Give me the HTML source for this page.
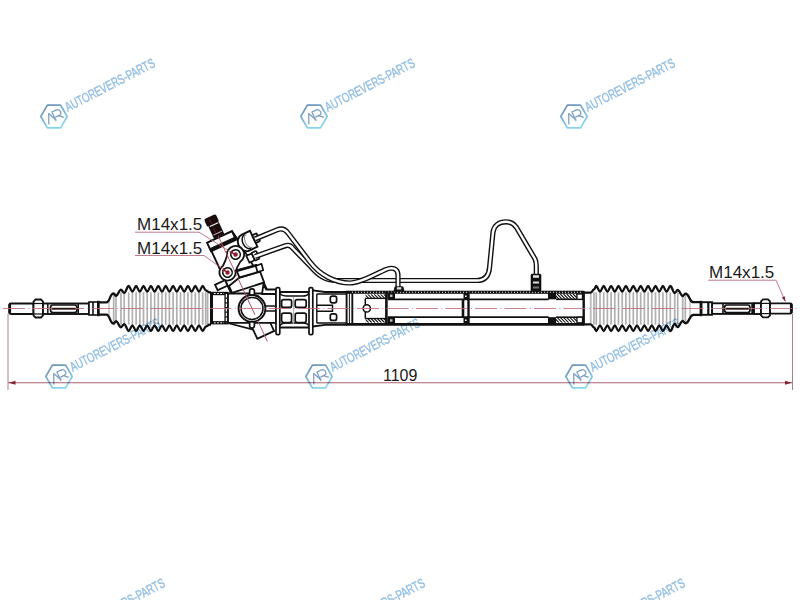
<!DOCTYPE html>
<html><head><meta charset="utf-8"><style>html,body{margin:0;padding:0;background:#fff;width:800px;height:600px;overflow:hidden}svg{display:block}</style></head>
<body><svg width="800" height="600" viewBox="0 0 800 600"><defs><linearGradient id="hexg" x1="0" y1="0" x2="0.5" y2="1"><stop offset="0" stop-color="#2f5a8c"/><stop offset="0.55" stop-color="#3f93c4"/><stop offset="1" stop-color="#55c3ea"/></linearGradient></defs><rect width="800" height="600" fill="#fff"/>
<rect width="800" height="600" fill="#fff"/>
<line x1="113.70" y1="293.80" x2="113.70" y2="323.20" stroke="#b0b0b0" stroke-width="1.7"/>
<line x1="116.00" y1="296.40" x2="116.00" y2="320.60" stroke="#b0b0b0" stroke-width="1.7"/>
<line x1="121.00" y1="292.20" x2="121.00" y2="324.80" stroke="#b0b0b0" stroke-width="1.7"/>
<line x1="124.20" y1="293.40" x2="124.20" y2="323.60" stroke="#b0b0b0" stroke-width="1.7"/>
<line x1="128.70" y1="292.20" x2="128.70" y2="324.80" stroke="#b0b0b0" stroke-width="1.7"/>
<line x1="132.40" y1="292.20" x2="132.40" y2="324.80" stroke="#b0b0b0" stroke-width="1.7"/>
<line x1="136.10" y1="292.20" x2="136.10" y2="324.80" stroke="#b0b0b0" stroke-width="1.7"/>
<line x1="139.80" y1="292.20" x2="139.80" y2="324.80" stroke="#b0b0b0" stroke-width="1.7"/>
<line x1="143.50" y1="292.20" x2="143.50" y2="324.80" stroke="#b0b0b0" stroke-width="1.7"/>
<line x1="147.20" y1="292.20" x2="147.20" y2="324.80" stroke="#b0b0b0" stroke-width="1.7"/>
<line x1="150.90" y1="292.20" x2="150.90" y2="324.80" stroke="#b0b0b0" stroke-width="1.7"/>
<line x1="154.60" y1="292.20" x2="154.60" y2="324.80" stroke="#b0b0b0" stroke-width="1.7"/>
<line x1="158.30" y1="292.20" x2="158.30" y2="324.80" stroke="#b0b0b0" stroke-width="1.7"/>
<line x1="162.00" y1="292.20" x2="162.00" y2="324.80" stroke="#b0b0b0" stroke-width="1.7"/>
<line x1="165.70" y1="292.20" x2="165.70" y2="324.80" stroke="#b0b0b0" stroke-width="1.7"/>
<line x1="169.40" y1="292.20" x2="169.40" y2="324.80" stroke="#b0b0b0" stroke-width="1.7"/>
<line x1="173.10" y1="292.20" x2="173.10" y2="324.80" stroke="#b0b0b0" stroke-width="1.7"/>
<line x1="176.80" y1="292.20" x2="176.80" y2="324.80" stroke="#b0b0b0" stroke-width="1.7"/>
<line x1="180.50" y1="292.20" x2="180.50" y2="324.80" stroke="#b0b0b0" stroke-width="1.7"/>
<line x1="184.20" y1="292.20" x2="184.20" y2="324.80" stroke="#b0b0b0" stroke-width="1.7"/>
<line x1="187.90" y1="292.20" x2="187.90" y2="324.80" stroke="#b0b0b0" stroke-width="1.7"/>
<line x1="191.60" y1="292.20" x2="191.60" y2="324.80" stroke="#b0b0b0" stroke-width="1.7"/>
<line x1="195.30" y1="292.20" x2="195.30" y2="324.80" stroke="#b0b0b0" stroke-width="1.7"/>
<line x1="199.00" y1="292.20" x2="199.00" y2="324.80" stroke="#b0b0b0" stroke-width="1.7"/>
<line x1="202.70" y1="292.20" x2="202.70" y2="324.80" stroke="#b0b0b0" stroke-width="1.7"/>
<line x1="205.70" y1="292.20" x2="205.70" y2="324.80" stroke="#b0b0b0" stroke-width="1.7"/>
<line x1="109.00" y1="300.00" x2="109.00" y2="317.00" stroke="#c8c8c8" stroke-width="1.7"/>
<line x1="207.60" y1="293.00" x2="207.60" y2="324.00" stroke="#b0b0b0" stroke-width="1.7"/>
<path d="M98.00,302.30 C100.95,302.30 103.25,302.30 106.20,302.30 C110.33,302.30 109.58,293.30 113.70,293.30 C114.53,293.30 115.17,295.90 116.00,295.90 C117.80,295.90 119.20,289.70 121.00,289.70 C122.15,289.70 123.05,292.90 124.20,292.90 C125.82,292.90 127.08,286.00 128.70,286.00 C130.03,286.00 131.07,291.70 132.40,291.70 C133.73,291.70 134.77,286.00 136.10,286.00 C137.43,286.00 138.47,291.70 139.80,291.70 C141.13,291.70 142.17,286.00 143.50,286.00 C144.83,286.00 145.87,291.70 147.20,291.70 C148.53,291.70 149.57,286.00 150.90,286.00 C152.23,286.00 153.27,291.70 154.60,291.70 C155.93,291.70 156.97,286.00 158.30,286.00 C159.63,286.00 160.67,291.70 162.00,291.70 C163.33,291.70 164.37,286.00 165.70,286.00 C167.03,286.00 168.07,291.70 169.40,291.70 C170.73,291.70 171.77,286.00 173.10,286.00 C174.43,286.00 175.47,291.70 176.80,291.70 C178.13,291.70 179.17,286.00 180.50,286.00 C181.83,286.00 182.87,291.70 184.20,291.70 C185.53,291.70 186.57,286.00 187.90,286.00 C189.23,286.00 190.27,291.70 191.60,291.70 C192.93,291.70 193.97,286.00 195.30,286.00 C196.63,286.00 197.67,291.70 199.00,291.70 C200.33,291.70 201.37,286.00 202.70,286.00 C203.78,286.00 204.62,290.30 205.70,290.30 C207.07,290.30 208.13,292.30 209.50,292.30 C210.04,292.30 210.46,292.30 211.00,292.30" fill="none" stroke="#111" stroke-width="2.3" stroke-linejoin="round"/>
<path d="M98.00,314.70 C100.95,314.70 103.25,314.70 106.20,314.70 C110.33,314.70 109.58,323.70 113.70,323.70 C114.53,323.70 115.17,321.10 116.00,321.10 C117.80,321.10 119.20,327.30 121.00,327.30 C122.15,327.30 123.05,324.10 124.20,324.10 C125.82,324.10 127.08,331.00 128.70,331.00 C130.03,331.00 131.07,325.30 132.40,325.30 C133.73,325.30 134.77,331.00 136.10,331.00 C137.43,331.00 138.47,325.30 139.80,325.30 C141.13,325.30 142.17,331.00 143.50,331.00 C144.83,331.00 145.87,325.30 147.20,325.30 C148.53,325.30 149.57,331.00 150.90,331.00 C152.23,331.00 153.27,325.30 154.60,325.30 C155.93,325.30 156.97,331.00 158.30,331.00 C159.63,331.00 160.67,325.30 162.00,325.30 C163.33,325.30 164.37,331.00 165.70,331.00 C167.03,331.00 168.07,325.30 169.40,325.30 C170.73,325.30 171.77,331.00 173.10,331.00 C174.43,331.00 175.47,325.30 176.80,325.30 C178.13,325.30 179.17,331.00 180.50,331.00 C181.83,331.00 182.87,325.30 184.20,325.30 C185.53,325.30 186.57,331.00 187.90,331.00 C189.23,331.00 190.27,325.30 191.60,325.30 C192.93,325.30 193.97,331.00 195.30,331.00 C196.63,331.00 197.67,325.30 199.00,325.30 C200.33,325.30 201.37,331.00 202.70,331.00 C203.78,331.00 204.62,326.70 205.70,326.70 C207.07,326.70 208.13,324.70 209.50,324.70 C210.04,324.70 210.46,324.70 211.00,324.70" fill="none" stroke="#111" stroke-width="2.3" stroke-linejoin="round"/>
<line x1="594.00" y1="292.20" x2="594.00" y2="324.80" stroke="#b0b0b0" stroke-width="1.7"/>
<line x1="596.30" y1="292.20" x2="596.30" y2="324.80" stroke="#b0b0b0" stroke-width="1.7"/>
<line x1="600.00" y1="292.20" x2="600.00" y2="324.80" stroke="#b0b0b0" stroke-width="1.7"/>
<line x1="603.70" y1="292.20" x2="603.70" y2="324.80" stroke="#b0b0b0" stroke-width="1.7"/>
<line x1="607.40" y1="292.20" x2="607.40" y2="324.80" stroke="#b0b0b0" stroke-width="1.7"/>
<line x1="611.10" y1="292.20" x2="611.10" y2="324.80" stroke="#b0b0b0" stroke-width="1.7"/>
<line x1="614.80" y1="292.20" x2="614.80" y2="324.80" stroke="#b0b0b0" stroke-width="1.7"/>
<line x1="618.50" y1="292.20" x2="618.50" y2="324.80" stroke="#b0b0b0" stroke-width="1.7"/>
<line x1="622.20" y1="292.20" x2="622.20" y2="324.80" stroke="#b0b0b0" stroke-width="1.7"/>
<line x1="625.90" y1="292.20" x2="625.90" y2="324.80" stroke="#b0b0b0" stroke-width="1.7"/>
<line x1="629.60" y1="292.20" x2="629.60" y2="324.80" stroke="#b0b0b0" stroke-width="1.7"/>
<line x1="633.30" y1="292.20" x2="633.30" y2="324.80" stroke="#b0b0b0" stroke-width="1.7"/>
<line x1="637.00" y1="292.20" x2="637.00" y2="324.80" stroke="#b0b0b0" stroke-width="1.7"/>
<line x1="640.70" y1="292.20" x2="640.70" y2="324.80" stroke="#b0b0b0" stroke-width="1.7"/>
<line x1="644.40" y1="292.20" x2="644.40" y2="324.80" stroke="#b0b0b0" stroke-width="1.7"/>
<line x1="648.10" y1="292.20" x2="648.10" y2="324.80" stroke="#b0b0b0" stroke-width="1.7"/>
<line x1="651.80" y1="292.20" x2="651.80" y2="324.80" stroke="#b0b0b0" stroke-width="1.7"/>
<line x1="655.50" y1="292.20" x2="655.50" y2="324.80" stroke="#b0b0b0" stroke-width="1.7"/>
<line x1="659.20" y1="292.20" x2="659.20" y2="324.80" stroke="#b0b0b0" stroke-width="1.7"/>
<line x1="662.90" y1="292.20" x2="662.90" y2="324.80" stroke="#b0b0b0" stroke-width="1.7"/>
<line x1="666.60" y1="292.20" x2="666.60" y2="324.80" stroke="#b0b0b0" stroke-width="1.7"/>
<line x1="670.30" y1="292.20" x2="670.30" y2="324.80" stroke="#b0b0b0" stroke-width="1.7"/>
<line x1="674.70" y1="293.50" x2="674.70" y2="323.50" stroke="#b0b0b0" stroke-width="1.7"/>
<line x1="677.70" y1="292.20" x2="677.70" y2="324.80" stroke="#b0b0b0" stroke-width="1.7"/>
<line x1="682.70" y1="296.50" x2="682.70" y2="320.50" stroke="#b0b0b0" stroke-width="1.7"/>
<line x1="685.30" y1="294.20" x2="685.30" y2="322.80" stroke="#b0b0b0" stroke-width="1.7"/>
<line x1="590.70" y1="293.50" x2="590.70" y2="323.50" stroke="#b0b0b0" stroke-width="1.7"/>
<line x1="690.00" y1="301.00" x2="690.00" y2="316.00" stroke="#c8c8c8" stroke-width="1.7"/>
<path d="M583.00,292.70 C585.77,292.70 587.93,292.70 590.70,292.70 C591.89,292.70 592.81,289.50 594.00,289.50 C594.83,289.50 595.47,286.00 596.30,286.00 C597.63,286.00 598.67,291.70 600.00,291.70 C601.33,291.70 602.37,286.00 603.70,286.00 C605.03,286.00 606.07,291.70 607.40,291.70 C608.73,291.70 609.77,286.00 611.10,286.00 C612.43,286.00 613.47,291.70 614.80,291.70 C616.13,291.70 617.17,286.00 618.50,286.00 C619.83,286.00 620.87,291.70 622.20,291.70 C623.53,291.70 624.57,286.00 625.90,286.00 C627.23,286.00 628.27,291.70 629.60,291.70 C630.93,291.70 631.97,286.00 633.30,286.00 C634.63,286.00 635.67,291.70 637.00,291.70 C638.33,291.70 639.37,286.00 640.70,286.00 C642.03,286.00 643.07,291.70 644.40,291.70 C645.73,291.70 646.77,286.00 648.10,286.00 C649.43,286.00 650.47,291.70 651.80,291.70 C653.13,291.70 654.17,286.00 655.50,286.00 C656.83,286.00 657.87,291.70 659.20,291.70 C660.53,291.70 661.57,286.00 662.90,286.00 C664.23,286.00 665.27,291.70 666.60,291.70 C667.93,291.70 668.97,286.00 670.30,286.00 C671.88,286.00 673.12,293.00 674.70,293.00 C675.78,293.00 676.62,290.00 677.70,290.00 C679.50,290.00 680.90,296.00 682.70,296.00 C683.64,296.00 684.36,293.70 685.30,293.70 C689.81,293.70 688.99,302.20 693.50,302.20 C696.20,302.20 698.30,302.20 701.00,302.20" fill="none" stroke="#111" stroke-width="2.3" stroke-linejoin="round"/>
<path d="M583.00,324.30 C585.77,324.30 587.93,324.30 590.70,324.30 C591.89,324.30 592.81,327.50 594.00,327.50 C594.83,327.50 595.47,331.00 596.30,331.00 C597.63,331.00 598.67,325.30 600.00,325.30 C601.33,325.30 602.37,331.00 603.70,331.00 C605.03,331.00 606.07,325.30 607.40,325.30 C608.73,325.30 609.77,331.00 611.10,331.00 C612.43,331.00 613.47,325.30 614.80,325.30 C616.13,325.30 617.17,331.00 618.50,331.00 C619.83,331.00 620.87,325.30 622.20,325.30 C623.53,325.30 624.57,331.00 625.90,331.00 C627.23,331.00 628.27,325.30 629.60,325.30 C630.93,325.30 631.97,331.00 633.30,331.00 C634.63,331.00 635.67,325.30 637.00,325.30 C638.33,325.30 639.37,331.00 640.70,331.00 C642.03,331.00 643.07,325.30 644.40,325.30 C645.73,325.30 646.77,331.00 648.10,331.00 C649.43,331.00 650.47,325.30 651.80,325.30 C653.13,325.30 654.17,331.00 655.50,331.00 C656.83,331.00 657.87,325.30 659.20,325.30 C660.53,325.30 661.57,331.00 662.90,331.00 C664.23,331.00 665.27,325.30 666.60,325.30 C667.93,325.30 668.97,331.00 670.30,331.00 C671.88,331.00 673.12,324.00 674.70,324.00 C675.78,324.00 676.62,327.00 677.70,327.00 C679.50,327.00 680.90,321.00 682.70,321.00 C683.64,321.00 684.36,323.30 685.30,323.30 C689.81,323.30 688.99,314.80 693.50,314.80 C696.20,314.80 698.30,314.80 701.00,314.80" fill="none" stroke="#111" stroke-width="2.3" stroke-linejoin="round"/>
<rect x="9.3" y="303.5" width="24.20" height="10.50" rx="1.5" fill="#fff" stroke="#111" stroke-width="1.9" />
<line x1="9.8" y1="304" x2="9.8" y2="313.5" stroke="#111" stroke-width="2.6" />
<path d="M35.5,299.5 L41.0,299.5 L43,301.5 L43,315.5 L41.0,317.5 L35.5,317.5 L33.5,315.5 L33.5,301.5 Z" fill="#fff" stroke="#111" stroke-width="1.8"/>
<line x1="33.5" y1="303.5" x2="43" y2="303.5" stroke="#111" stroke-width="1.2" />
<line x1="33.5" y1="314" x2="43" y2="314" stroke="#111" stroke-width="1.2" />
<rect x="43" y="303.5" width="46.00" height="10.50" rx="0" fill="#fff" stroke="#111" stroke-width="1.9" />
<line x1="47.8" y1="303.5" x2="47.8" y2="314" stroke="#111" stroke-width="1.5" />
<rect x="50.5" y="305" width="26.50" height="7.50" rx="2.5" fill="#fff" stroke="#111" stroke-width="1.7" />
<line x1="51.5" y1="308.7" x2="76" y2="308.7" stroke="#2a1414" stroke-width="1.6" />
<line x1="78.2" y1="303.5" x2="78.2" y2="314" stroke="#111" stroke-width="1.6" />
<rect x="89" y="302" width="9.50" height="13.00" rx="0" fill="#fff" stroke="#111" stroke-width="1.6" />
<line x1="93" y1="302" x2="93" y2="315" stroke="#111" stroke-width="1.6" />
<line x1="98.3" y1="300.8" x2="98.3" y2="316.2" stroke="#111" stroke-width="2.6" />
<line x1="700.9" y1="300.8" x2="700.9" y2="316.2" stroke="#111" stroke-width="2.6" />
<rect x="712" y="303.3" width="42.00" height="10.60" rx="0" fill="#fff" stroke="#111" stroke-width="1.9" />
<rect x="701.5" y="302.2" width="10.50" height="12.60" rx="0" fill="#fff" stroke="#111" stroke-width="1.9" />
<line x1="708.3" y1="302.2" x2="708.3" y2="314.8" stroke="#111" stroke-width="2.2" />
<line x1="723" y1="303.3" x2="723" y2="313.9" stroke="#111" stroke-width="1.6" />
<rect x="724.5" y="305" width="25.50" height="7.50" rx="2.5" fill="#fff" stroke="#111" stroke-width="1.7" />
<line x1="725.5" y1="308.7" x2="749" y2="308.7" stroke="#2a1414" stroke-width="1.6" />
<line x1="752.4" y1="303" x2="752.4" y2="314" stroke="#111" stroke-width="2.2" />
<rect x="754" y="303.2" width="7.00" height="10.80" rx="0" fill="#fff" stroke="#111" stroke-width="1.9" />
<path d="M763.0,299.3 L768.0,299.3 L770,301.3 L770,315.3 L768.0,317.3 L763.0,317.3 L761,315.3 L761,301.3 Z" fill="#fff" stroke="#111" stroke-width="1.8"/>
<line x1="761" y1="303.4" x2="770" y2="303.4" stroke="#111" stroke-width="1.2" />
<line x1="761" y1="313.6" x2="770" y2="313.6" stroke="#111" stroke-width="1.2" />
<rect x="770" y="303.4" width="21.80" height="10.20" rx="1.5" fill="#fff" stroke="#111" stroke-width="1.9" />
<line x1="791.2" y1="304" x2="791.2" y2="313" stroke="#111" stroke-width="2.6" />
<rect x="210" y="291.8" width="18.60" height="32.60" rx="0" fill="#111" stroke="#111" stroke-width="0" />
<rect x="213" y="295.2" width="11.40" height="25.90" rx="0" fill="#fff" stroke="#111" stroke-width="0" />
<line x1="214" y1="293.5" x2="224" y2="293.5" stroke="#fff" stroke-width="1.0" stroke-dasharray="1.6 1.6"/>
<line x1="214" y1="322.8" x2="224" y2="322.8" stroke="#fff" stroke-width="1.0" stroke-dasharray="1.6 1.6"/>
<line x1="226.5" y1="294" x2="226.5" y2="322.5" stroke="#fff" stroke-width="1.5" stroke-dasharray="3.5 1.2"/>
<g transform="translate(252,308.4) rotate(-25)"><rect x="-8" y="12" width="18.50" height="17.80" rx="0" fill="#fff" stroke="#111" stroke-width="1.8" /></g>
<path d="M228.5,323.3 L253.2,329.6" stroke="#111" stroke-width="1.6" fill="none"/>
<g transform="translate(252,308.4) rotate(-25)"><path d="M-12.5,-78 L14.5,-78 L16,-70 L19,-40 L21.5,-18 L21.5,-5 L-12.5,-5 Z" fill="#fff" stroke="#111" stroke-width="1.9"/><rect x="-13" y="-78.5" width="27.50" height="9.50" rx="0" fill="#fff" stroke="#111" stroke-width="1.9" /><rect x="-13" y="-72.3" width="27.50" height="3.30" rx="0" fill="#111" stroke="#111" stroke-width="0" /><rect x="-6" y="-101" width="13.00" height="8.60" rx="2" fill="#1c0c0c" stroke="#111" stroke-width="0" /><rect x="-5" y="-92.6" width="11.40" height="13.40" rx="0.8" fill="#1c0c0c" stroke="#111" stroke-width="0" /><rect x="-3.5" y="-92.6" width="9.00" height="1.20" rx="0" fill="#f0f0f0" stroke="#111" stroke-width="0" /><rect x="-4" y="-83.2" width="9.40" height="1.00" rx="0" fill="#cfcfcf" stroke="#111" stroke-width="0" /><line x1="-1" y1="-99" x2="-1" y2="-94" stroke="#6a2a2a" stroke-width="0.7" /><line x1="-1" y1="-89" x2="-1" y2="-84" stroke="#6a2a2a" stroke-width="0.7" /><path d="M22,-71.2 L31,-71.2 L31,-53.6 L22,-53.6 A7.5,8.8 0 0 1 22,-71.2 Z" fill="#fff" stroke="#111" stroke-width="1.9"/><path d="M24.5,-70 A5.2,7.6 0 0 0 24.5,-54.8" fill="none" stroke="#111" stroke-width="1.5"/><path d="M26,-69.5 A4,7 0 0 0 26,-55.3" fill="none" stroke="#777" stroke-width="0.9"/><rect x="31" y="-66.2" width="4.80" height="8.60" rx="1" fill="#fff" stroke="#111" stroke-width="1.8" /><line x1="31" y1="-61.9" x2="35.8" y2="-61.9" stroke="#111" stroke-width="1" /><rect x="17" y="-50" width="6.00" height="7.50" rx="0" fill="#fff" stroke="#111" stroke-width="1.7" /><rect x="23" y="-50.5" width="5.00" height="8.50" rx="1" fill="#fff" stroke="#111" stroke-width="1.7" /></g>
<path d="M239.5,277.5 L260,271.5 L264.2,282.5 L232,292.8 L229,286 Z" fill="#fff" stroke="#111" stroke-width="1.9" stroke-linejoin="round"/><path d="M236.5,270.5 L256.5,265 L260,271.5 L239.5,277.5 Z" fill="#fff" stroke="#111" stroke-width="1.9" stroke-linejoin="round"/><path d="M237,270.8 L257,265.2" stroke="#111" stroke-width="2.6"/><path d="M255.8,266 L261.5,263.8 L263.2,270.2 L257.5,272 Z" fill="#fff" stroke="#111" stroke-width="1.7" stroke-linejoin="round"/><g transform="translate(252,308.4) rotate(-25)"><rect x="-23.5" y="-37" width="11.00" height="6.00" rx="0" fill="#fff" stroke="#111" stroke-width="1.8" /></g><g transform="translate(252,308.4) rotate(-25)"><path d="M-0.37,-58.32 Q-3.90,-54.33 -8.26,-50.90 A8.1,8.1 0 1 0 0.75,-40.53 Q4.75,-44.37 9.19,-47.31 A8.6,8.6 0 1 0 -0.37,-58.32 Z" fill="#fff" stroke="#111" stroke-width="1.8"/><circle cx="7.85" cy="-55.8" r="4.7" fill="#fff" stroke="#111" stroke-width="1.6"/><circle cx="7.85" cy="-55.8" r="2.2" fill="#9b1c2a"/><circle cx="-7" cy="-42.9" r="4.7" fill="#fff" stroke="#111" stroke-width="1.6"/><circle cx="-7" cy="-42.9" r="2.2" fill="#9b1c2a"/></g>
<path d="M228,293.5 L276,293.5 L276,322.8 L228,322.8 Z" fill="#fff" stroke="#111" stroke-width="1.8"/>
<path d="M263.5,284 L266,289.5 L276,289.5 L276,294 L262,294 Z" fill="#fff" stroke="#111" stroke-width="1.8" stroke-linejoin="round"/>
<rect x="249.6" y="288.8" width="4.80" height="7.20" rx="2.2" fill="#fff" stroke="#111" stroke-width="1.7" />
<rect x="249.6" y="320.8" width="4.80" height="7.20" rx="2.2" fill="#fff" stroke="#111" stroke-width="1.7" />
<circle cx="252" cy="308.4" r="13.4" fill="#fff" stroke="#111" stroke-width="2"/>
<circle cx="252" cy="308.4" r="11" fill="#fff" stroke="#111" stroke-width="1.5"/>
<path d="M265.3,306 L276,306 M265.3,311 L276,311" stroke="#111" stroke-width="1.5"/>
<rect x="276" y="287.6" width="3.80" height="47.10" rx="1.5" fill="#fff" stroke="#111" stroke-width="1.7" />
<path d="M279.8,293.5 Q282,296 286,296 L303,296 Q307,296 309,293.5 M279.8,325.5 Q282,323 286,323 L303,323 Q307,323 309,325.5" fill="none" stroke="#111" stroke-width="1.6"/>
<path d="M279.8,292 L309,292 M279.8,327.5 L309,327.5" fill="none" stroke="#111" stroke-width="1.8"/>
<rect x="281.6" y="299.6" width="10.00" height="7.80" rx="2" fill="#fff" stroke="#111" stroke-width="1.7" />
<rect x="281.6" y="313.2" width="10.00" height="9.40" rx="2" fill="#fff" stroke="#111" stroke-width="1.7" />
<rect x="295.2" y="299.6" width="11.00" height="7.80" rx="2" fill="#fff" stroke="#111" stroke-width="1.7" />
<rect x="295.2" y="313.2" width="11.00" height="9.40" rx="2" fill="#fff" stroke="#111" stroke-width="1.7" />
<line x1="293.4" y1="297" x2="293.4" y2="324" stroke="#aaa" stroke-width="1.0" />
<rect x="309" y="287.6" width="3.80" height="47.10" rx="1.5" fill="#fff" stroke="#111" stroke-width="1.7" />
<path d="M312.8,290.3 L325,292 L347,292 M312.8,326.5 L325,324.8 L347,324.8" fill="none" stroke="#111" stroke-width="1.8"/>
<path d="M316.8,294 L316.8,323 M316.8,294 L346,294 M316.8,323 L346,323" fill="none" stroke="#111" stroke-width="1.4"/>
<path d="M316.8,305.3 L332.5,305.3 L332.5,311.3 L316.8,311.3" fill="none" stroke="#111" stroke-width="1.5"/>
<rect x="330.3" y="296.2" width="6.30" height="6.60" rx="2" fill="#fff" stroke="#111" stroke-width="1.7" />
<rect x="330.3" y="313.8" width="6.30" height="6.60" rx="2" fill="#fff" stroke="#111" stroke-width="1.7" />
<line x1="346.6" y1="291.5" x2="346.6" y2="324.5" stroke="#111" stroke-width="1.9" />
<line x1="349.4" y1="292" x2="349.4" y2="324" stroke="#111" stroke-width="1.0" />
<line x1="352.3" y1="291.5" x2="352.3" y2="324.5" stroke="#111" stroke-width="1.9" />
<rect x="346" y="290.7" width="237.70" height="3.10" rx="0" fill="#111" stroke="#111" stroke-width="0" />
<line x1="352" y1="292.25" x2="582" y2="292.25" stroke="#fff" stroke-width="0.9" stroke-dasharray="1 2"/>
<line x1="346" y1="324.3" x2="583.7" y2="324.3" stroke="#111" stroke-width="2.7" />
<line x1="388" y1="299.3" x2="548.7" y2="299.3" stroke="#111" stroke-width="1.8" />
<line x1="388" y1="317.2" x2="548.7" y2="317.2" stroke="#111" stroke-width="1.8" />
<clipPath id="h365294"><rect x="365.5" y="294.2" width="20.30000000000001" height="4.199999999999989"/></clipPath><path d="M361.30,294.2 L365.50,298.4 M364.50,294.2 L368.70,298.4 M367.70,294.2 L371.90,298.4 M370.90,294.2 L375.10,298.4 M374.10,294.2 L378.30,298.4 M377.30,294.2 L381.50,298.4 M380.50,294.2 L384.70,298.4 M383.70,294.2 L387.90,298.4" stroke="#111" stroke-width="1.1" clip-path="url(#h365294)"/>
<clipPath id="h365318"><rect x="365.5" y="318.5" width="20.30000000000001" height="4.199999999999989"/></clipPath><path d="M361.30,318.5 L365.50,322.7 M364.50,318.5 L368.70,322.7 M367.70,318.5 L371.90,322.7 M370.90,318.5 L375.10,322.7 M374.10,318.5 L378.30,322.7 M377.30,318.5 L381.50,322.7 M380.50,318.5 L384.70,322.7 M383.70,318.5 L387.90,322.7" stroke="#111" stroke-width="1.1" clip-path="url(#h365318)"/>
<line x1="365.3" y1="298.4" x2="365.3" y2="318.5" stroke="#111" stroke-width="1.5" />
<line x1="365.3" y1="298.4" x2="386" y2="298.4" stroke="#111" stroke-width="1.3" />
<line x1="365.3" y1="318.5" x2="386" y2="318.5" stroke="#111" stroke-width="1.3" />
<circle cx="366.8" cy="308.4" r="3.6" fill="#fff" stroke="#111" stroke-width="1.6"/>
<line x1="386.4" y1="291.6" x2="386.4" y2="324.2" stroke="#111" stroke-width="2.6" />
<rect x="387.5" y="292.5" width="7.50" height="6.50" rx="0" fill="#111" stroke="#111" stroke-width="0" />
<rect x="387.5" y="317.5" width="7.50" height="6.00" rx="0" fill="#111" stroke="#111" stroke-width="0" />
<rect x="390" y="294.5" width="2.50" height="2.50" rx="0" fill="#bbb" stroke="#111" stroke-width="0" />
<rect x="390" y="319.2" width="2.50" height="2.50" rx="0" fill="#bbb" stroke="#111" stroke-width="0" />
<line x1="463" y1="299.3" x2="463" y2="317.2" stroke="#111" stroke-width="2.6" />
<line x1="468.5" y1="292" x2="468.5" y2="324" stroke="#111" stroke-width="2.4" />
<rect x="463.5" y="293" width="5.50" height="6.30" rx="0" fill="#111" stroke="#111" stroke-width="0" />
<rect x="463.5" y="317.2" width="5.50" height="6.30" rx="0" fill="#111" stroke="#111" stroke-width="0" />
<rect x="465" y="295.5" width="1.60" height="1.50" rx="0" fill="#fff" stroke="#111" stroke-width="0" />
<rect x="465" y="319.5" width="1.60" height="1.50" rx="0" fill="#fff" stroke="#111" stroke-width="0" />
<line x1="548.7" y1="293" x2="548.7" y2="299.3" stroke="#111" stroke-width="1.4" />
<line x1="548.7" y1="317.2" x2="548.7" y2="323.5" stroke="#111" stroke-width="1.4" />
<rect x="549" y="293" width="7.00" height="6.30" rx="0" fill="#111" stroke="#111" stroke-width="0" />
<rect x="549" y="317.2" width="7.00" height="6.30" rx="0" fill="#111" stroke="#111" stroke-width="0" />
<clipPath id="h556294"><rect x="556" y="294" width="21" height="5.300000000000011"/></clipPath><path d="M550.70,294 L556.00,299.3 M553.90,294 L559.20,299.3 M557.10,294 L562.40,299.3 M560.30,294 L565.60,299.3 M563.50,294 L568.80,299.3 M566.70,294 L572.00,299.3 M569.90,294 L575.20,299.3 M573.10,294 L578.40,299.3 M576.30,294 L581.60,299.3" stroke="#111" stroke-width="1.1" clip-path="url(#h556294)"/>
<clipPath id="h556317"><rect x="556" y="317.2" width="21" height="5.600000000000023"/></clipPath><path d="M550.40,317.2 L556.00,322.8 M553.60,317.2 L559.20,322.8 M556.80,317.2 L562.40,322.8 M560.00,317.2 L565.60,322.8 M563.20,317.2 L568.80,322.8 M566.40,317.2 L572.00,322.8 M569.60,317.2 L575.20,322.8 M572.80,317.2 L578.40,322.8 M576.00,317.2 L581.60,322.8" stroke="#111" stroke-width="1.1" clip-path="url(#h556317)"/>
<line x1="556" y1="299.3" x2="583" y2="299.3" stroke="#111" stroke-width="1.6" />
<line x1="556" y1="317.2" x2="583" y2="317.2" stroke="#111" stroke-width="1.6" />
<rect x="577" y="294" width="5.50" height="5.30" rx="0" fill="#fff" stroke="#111" stroke-width="1.3" />
<rect x="577" y="317.2" width="5.50" height="5.60" rx="0" fill="#fff" stroke="#111" stroke-width="1.3" />
<line x1="583.7" y1="291.3" x2="583.7" y2="325.2" stroke="#111" stroke-width="2.4" />
<line x1="590.5" y1="294" x2="590.5" y2="323" stroke="#bbb" stroke-width="1.0" />
<path d="M255,256.5 L285.5,245.7 C289,244.5 291,245.5 293,248.5 L311,267 C318,275 325,280.5 336,280.5 L477,280.5 C485,280.5 489,275.5 489.6,267 L493,232 C494,225.5 499,221.8 506,221.8 C511,221.8 514,223.8 516.5,227.5 L535,259 C536,261 536.3,263 536.3,266 L536.3,276" fill="none" stroke="#111" stroke-width="5.2" stroke-linejoin="round"/>
<path d="M255,256.5 L285.5,245.7 C289,244.5 291,245.5 293,248.5 L311,267 C318,275 325,280.5 336,280.5 L477,280.5 C485,280.5 489,275.5 489.6,267 L493,232 C494,225.5 499,221.8 506,221.8 C511,221.8 514,223.8 516.5,227.5 L535,259 C536,261 536.3,263 536.3,266 L536.3,276" fill="none" stroke="#fff" stroke-width="2.4" stroke-linejoin="round"/>
<path d="M255,239 L277,229.8 C281,228.2 285,228.8 288,233 L310,262 C320,275 335,283 350,283 C360,283 375,274.5 385,269.8 C392,266.8 397.8,268 398,275 L398,287.5" fill="none" stroke="#111" stroke-width="5.2" stroke-linejoin="round"/>
<path d="M255,239 L277,229.8 C281,228.2 285,228.8 288,233 L310,262 C320,275 335,283 350,283 C360,283 375,274.5 385,269.8 C392,266.8 397.8,268 398,275 L398,287.5" fill="none" stroke="#fff" stroke-width="2.4" stroke-linejoin="round"/>
<path d="M393.5,291.6 L394.5,287 Q395,286.2 396,286.2 L402,286.2 Q403,286.2 403.5,287 L404.5,291.6 Z" fill="#111"/>
<rect x="396.8" y="287.2" width="4.50" height="2.30" rx="0" fill="#ddd" stroke="#111" stroke-width="0" />
<rect x="530.7" y="273.7" width="10.60" height="17.90" rx="1.5" fill="#111" stroke="#111" stroke-width="0" />
<rect x="533" y="275.2" width="6.00" height="2.60" rx="0" fill="#ddd" stroke="#111" stroke-width="0" />
<rect x="533" y="281.5" width="6.00" height="2.00" rx="0" fill="#ddd" stroke="#111" stroke-width="0" />
<rect x="533" y="286.5" width="6.00" height="2.00" rx="0" fill="#777" stroke="#111" stroke-width="0" />
<line x1="3" y1="308.5" x2="797" y2="308.5" stroke="#c06e7c" stroke-width="0.85" stroke-dasharray="22 3.4 0.9 3.2"/>
<line x1="52" y1="308.6" x2="75.5" y2="308.6" stroke="#2a1414" stroke-width="1.5" />
<line x1="726" y1="308.6" x2="748.5" y2="308.6" stroke="#2a1414" stroke-width="1.5" />
<g transform="translate(252,308.4) rotate(-25)"><line x1="0" y1="-80" x2="0" y2="36.5" stroke="#b05565" stroke-width="0.9" stroke-dasharray="40 3 1 3"/></g>
<path d="M135,232.2 L199,232.2 L234,254" fill="none" stroke="#b05a6a" stroke-width="0.8"/>
<path d="M135,255.5 L204,255.5 L226,271.5" fill="none" stroke="#b05a6a" stroke-width="0.8"/>
<path d="M708,280.2 L776,280.2 L785.2,301" fill="none" stroke="#b05a6a" stroke-width="0.8"/>
<polygon points="235,254.6 229.48,253.05 231.18,250.34" fill="#852535"/>
<polygon points="227.3,272.4 221.91,270.47 223.79,267.88" fill="#852535"/>
<polygon points="785.5,302 781.84,297.60 784.77,296.32" fill="#852535"/>
<text x="137" y="229.7" font-size="16" textLength="65.3" lengthAdjust="spacingAndGlyphs" font-family="Liberation Sans, sans-serif" fill="#1a1a1a">M14x1.5</text>
<text x="137" y="253.7" font-size="16" textLength="65.3" lengthAdjust="spacingAndGlyphs" font-family="Liberation Sans, sans-serif" fill="#1a1a1a">M14x1.5</text>
<text x="709" y="278" font-size="16" textLength="65.3" lengthAdjust="spacingAndGlyphs" font-family="Liberation Sans, sans-serif" fill="#1a1a1a">M14x1.5</text>
<path d="M8,314 L8,390 M792.5,314 L792.5,390" fill="none" stroke="#a8808a" stroke-width="1.0"/><path d="M8,382.7 L792.5,382.7" fill="none" stroke="#aa6070" stroke-width="1.1"/>
<polygon points="8.5,382.7 15.50,380.70 15.50,384.70" fill="#852535"/>
<polygon points="792,382.7 785.00,384.70 785.00,380.70" fill="#852535"/>
<text x="383" y="380.6" font-size="16" font-family="Liberation Sans, sans-serif" fill="#1a1a1a">1109</text>
<g opacity="0.7" style="mix-blend-mode:multiply"><polygon points="67.20,116.50 60.60,127.93 47.40,127.93 40.80,116.50 47.40,105.07 60.60,105.07" fill="none" stroke="url(#hexg)" stroke-width="1.7" stroke-linejoin="round"/><g transform="translate(54,116.5) rotate(-25)" fill="none" stroke="#3f74a6" stroke-width="1.25" stroke-linejoin="round"><path d="M-8,5 L-3.5,-5 L0.5,4"/><path d="M0,5 L0,-5 L4.5,-5 Q8,-5 8,-1.5 Q8,1.2 4.5,1.2 L1,1.2 M4.5,1.2 L8.5,5"/></g><text x="67.8" y="111.9" font-size="13.5" font-family="Liberation Sans, sans-serif" fill="#5d9fd6" stroke="#5d9fd6" stroke-width="0.35" textLength="99.5" lengthAdjust="spacingAndGlyphs" transform="rotate(-27.4 67.8 111.9)">AUTOREVERS-PARTS</text><polygon points="327.20,116.50 320.60,127.93 307.40,127.93 300.80,116.50 307.40,105.07 320.60,105.07" fill="none" stroke="url(#hexg)" stroke-width="1.7" stroke-linejoin="round"/><g transform="translate(314,116.5) rotate(-25)" fill="none" stroke="#3f74a6" stroke-width="1.25" stroke-linejoin="round"><path d="M-8,5 L-3.5,-5 L0.5,4"/><path d="M0,5 L0,-5 L4.5,-5 Q8,-5 8,-1.5 Q8,1.2 4.5,1.2 L1,1.2 M4.5,1.2 L8.5,5"/></g><text x="327.8" y="111.9" font-size="13.5" font-family="Liberation Sans, sans-serif" fill="#5d9fd6" stroke="#5d9fd6" stroke-width="0.35" textLength="99.5" lengthAdjust="spacingAndGlyphs" transform="rotate(-27.4 327.8 111.9)">AUTOREVERS-PARTS</text><polygon points="587.20,116.50 580.60,127.93 567.40,127.93 560.80,116.50 567.40,105.07 580.60,105.07" fill="none" stroke="url(#hexg)" stroke-width="1.7" stroke-linejoin="round"/><g transform="translate(574,116.5) rotate(-25)" fill="none" stroke="#3f74a6" stroke-width="1.25" stroke-linejoin="round"><path d="M-8,5 L-3.5,-5 L0.5,4"/><path d="M0,5 L0,-5 L4.5,-5 Q8,-5 8,-1.5 Q8,1.2 4.5,1.2 L1,1.2 M4.5,1.2 L8.5,5"/></g><text x="587.8" y="111.9" font-size="13.5" font-family="Liberation Sans, sans-serif" fill="#5d9fd6" stroke="#5d9fd6" stroke-width="0.35" textLength="99.5" lengthAdjust="spacingAndGlyphs" transform="rotate(-27.4 587.8 111.9)">AUTOREVERS-PARTS</text><polygon points="72.20,376.50 65.60,387.93 52.40,387.93 45.80,376.50 52.40,365.07 65.60,365.07" fill="none" stroke="url(#hexg)" stroke-width="1.7" stroke-linejoin="round"/><g transform="translate(59,376.5) rotate(-25)" fill="none" stroke="#3f74a6" stroke-width="1.25" stroke-linejoin="round"><path d="M-8,5 L-3.5,-5 L0.5,4"/><path d="M0,5 L0,-5 L4.5,-5 Q8,-5 8,-1.5 Q8,1.2 4.5,1.2 L1,1.2 M4.5,1.2 L8.5,5"/></g><text x="72.8" y="371.9" font-size="13.5" font-family="Liberation Sans, sans-serif" fill="#5d9fd6" stroke="#5d9fd6" stroke-width="0.35" textLength="99.5" lengthAdjust="spacingAndGlyphs" transform="rotate(-27.4 72.8 371.9)">AUTOREVERS-PARTS</text><polygon points="332.20,376.50 325.60,387.93 312.40,387.93 305.80,376.50 312.40,365.07 325.60,365.07" fill="none" stroke="url(#hexg)" stroke-width="1.7" stroke-linejoin="round"/><g transform="translate(319,376.5) rotate(-25)" fill="none" stroke="#3f74a6" stroke-width="1.25" stroke-linejoin="round"><path d="M-8,5 L-3.5,-5 L0.5,4"/><path d="M0,5 L0,-5 L4.5,-5 Q8,-5 8,-1.5 Q8,1.2 4.5,1.2 L1,1.2 M4.5,1.2 L8.5,5"/></g><text x="332.8" y="371.9" font-size="13.5" font-family="Liberation Sans, sans-serif" fill="#5d9fd6" stroke="#5d9fd6" stroke-width="0.35" textLength="99.5" lengthAdjust="spacingAndGlyphs" transform="rotate(-27.4 332.8 371.9)">AUTOREVERS-PARTS</text><polygon points="592.20,376.50 585.60,387.93 572.40,387.93 565.80,376.50 572.40,365.07 585.60,365.07" fill="none" stroke="url(#hexg)" stroke-width="1.7" stroke-linejoin="round"/><g transform="translate(579,376.5) rotate(-25)" fill="none" stroke="#3f74a6" stroke-width="1.25" stroke-linejoin="round"><path d="M-8,5 L-3.5,-5 L0.5,4"/><path d="M0,5 L0,-5 L4.5,-5 Q8,-5 8,-1.5 Q8,1.2 4.5,1.2 L1,1.2 M4.5,1.2 L8.5,5"/></g><text x="592.8" y="371.9" font-size="13.5" font-family="Liberation Sans, sans-serif" fill="#5d9fd6" stroke="#5d9fd6" stroke-width="0.35" textLength="99.5" lengthAdjust="spacingAndGlyphs" transform="rotate(-27.4 592.8 371.9)">AUTOREVERS-PARTS</text><polygon points="77.20,636.50 70.60,647.93 57.40,647.93 50.80,636.50 57.40,625.07 70.60,625.07" fill="none" stroke="url(#hexg)" stroke-width="1.7" stroke-linejoin="round"/><g transform="translate(64,636.5) rotate(-25)" fill="none" stroke="#3f74a6" stroke-width="1.25" stroke-linejoin="round"><path d="M-8,5 L-3.5,-5 L0.5,4"/><path d="M0,5 L0,-5 L4.5,-5 Q8,-5 8,-1.5 Q8,1.2 4.5,1.2 L1,1.2 M4.5,1.2 L8.5,5"/></g><text x="77.8" y="631.9" font-size="13.5" font-family="Liberation Sans, sans-serif" fill="#5d9fd6" stroke="#5d9fd6" stroke-width="0.35" textLength="99.5" lengthAdjust="spacingAndGlyphs" transform="rotate(-27.4 77.8 631.9)">AUTOREVERS-PARTS</text><polygon points="337.20,636.50 330.60,647.93 317.40,647.93 310.80,636.50 317.40,625.07 330.60,625.07" fill="none" stroke="url(#hexg)" stroke-width="1.7" stroke-linejoin="round"/><g transform="translate(324,636.5) rotate(-25)" fill="none" stroke="#3f74a6" stroke-width="1.25" stroke-linejoin="round"><path d="M-8,5 L-3.5,-5 L0.5,4"/><path d="M0,5 L0,-5 L4.5,-5 Q8,-5 8,-1.5 Q8,1.2 4.5,1.2 L1,1.2 M4.5,1.2 L8.5,5"/></g><text x="337.8" y="631.9" font-size="13.5" font-family="Liberation Sans, sans-serif" fill="#5d9fd6" stroke="#5d9fd6" stroke-width="0.35" textLength="99.5" lengthAdjust="spacingAndGlyphs" transform="rotate(-27.4 337.8 631.9)">AUTOREVERS-PARTS</text><polygon points="597.20,636.50 590.60,647.93 577.40,647.93 570.80,636.50 577.40,625.07 590.60,625.07" fill="none" stroke="url(#hexg)" stroke-width="1.7" stroke-linejoin="round"/><g transform="translate(584,636.5) rotate(-25)" fill="none" stroke="#3f74a6" stroke-width="1.25" stroke-linejoin="round"><path d="M-8,5 L-3.5,-5 L0.5,4"/><path d="M0,5 L0,-5 L4.5,-5 Q8,-5 8,-1.5 Q8,1.2 4.5,1.2 L1,1.2 M4.5,1.2 L8.5,5"/></g><text x="597.8" y="631.9" font-size="13.5" font-family="Liberation Sans, sans-serif" fill="#5d9fd6" stroke="#5d9fd6" stroke-width="0.35" textLength="99.5" lengthAdjust="spacingAndGlyphs" transform="rotate(-27.4 597.8 631.9)">AUTOREVERS-PARTS</text></g></svg></body></html>
